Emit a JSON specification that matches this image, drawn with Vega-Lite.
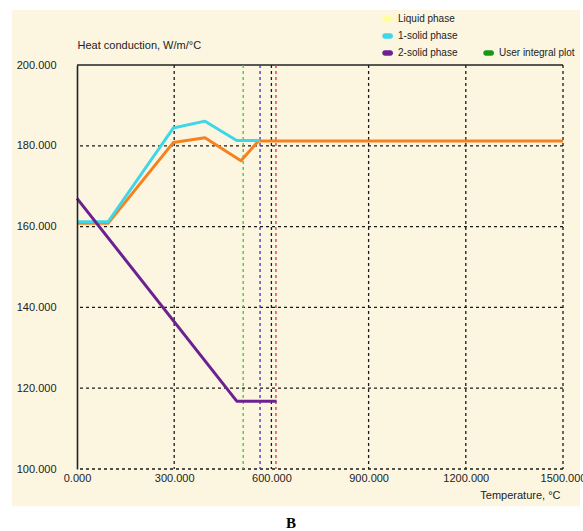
{
  "$schema": "https://vega.github.io/schema/vega-lite/v6.json",
  "width": 486,
  "height": 404,
  "autosize": {"type": "none"},
  "padding": {"left": 77, "top": 65, "right": 20, "bottom": 62},
  "background": "#FFFFFF",
  "config": {
    "view": {"stroke": null},
    "font": "Liberation Sans"
  },
  "title": {
    "text": "B",
    "orient": "bottom",
    "font": "Liberation Serif",
    "fontSize": 15,
    "fontWeight": "bold",
    "color": "#000000",
    "anchor": "middle",
    "frame": "group",
    "dx": -29,
    "offset": 10
  },
  "datasets": {
    "frame": [
      {"x0": -200.6, "x1": 1552, "y0": 213.6, "y1": 90.8}
    ],
    "gridT": [
      {"T": 300}, {"T": 600}, {"T": 900}, {"T": 1200}, {"T": 1500}
    ],
    "gridK": [
      {"k": 100}, {"k": 120}, {"k": 140}, {"k": 160}, {"k": 180}
    ],
    "border": [
      {"k": 200}
    ],
    "curves": [
      {"series": "1-solid phase", "T": 0, "k": 161.2},
      {"series": "1-solid phase", "T": 96, "k": 161.2},
      {"series": "1-solid phase", "T": 297, "k": 184.4},
      {"series": "1-solid phase", "T": 395, "k": 186.1},
      {"series": "1-solid phase", "T": 493, "k": 181.3},
      {"series": "1-solid phase", "T": 565, "k": 181.3},
      {"series": "2-solid phase", "T": 0, "k": 167},
      {"series": "2-solid phase", "T": 493, "k": 116.8},
      {"series": "2-solid phase", "T": 616, "k": 116.8}
    ],
    "integral": [
      {"T": 0, "k": 160.8},
      {"T": 96, "k": 160.8},
      {"T": 297, "k": 180.8},
      {"T": 395, "k": 182.0},
      {"T": 506, "k": 176.3},
      {"T": 560, "k": 181.2},
      {"T": 1500, "k": 181.2}
    ],
    "phases": [
      {"T": 513, "line": "start"},
      {"T": 565, "line": "middle"},
      {"T": 614, "line": "end"}
    ]
  },
  "layer": [
    {
      "data": {"name": "frame"},
      "mark": {"type": "rect", "fill": "#FCF6E1", "opacity": 1, "clip": false},
      "encoding": {
        "x": {
          "field": "x0", "type": "quantitative",
          "scale": {"domain": [0, 1500], "nice": false, "zero": false},
          "axis": {
            "values": [0, 300, 600, 900, 1200, 1500],
            "format": ".3f",
            "grid": false,
            "zindex": 1,
            "domain": false,
            "ticks": false,
            "labelPadding": 3,
            "labelFlush": false,
            "labelFont": "Liberation Sans",
            "labelFontSize": 11,
            "labelColor": "#222222",
            "title": "Temperature, °C",
            "titleFont": "Liberation Sans",
            "titleFontSize": 11,
            "titleFontWeight": "normal",
            "titleColor": "#222222",
            "titleAnchor": "end",
            "titleAlign": "right",
            "titleBaseline": "middle",
            "titleX": 483,
            "titleY": 26
          }
        },
        "x2": {"field": "x1"},
        "y": {
          "field": "y0", "type": "quantitative",
          "scale": {"domain": [100, 200], "nice": false, "zero": false},
          "axis": {
            "values": [100, 120, 140, 160, 180, 200],
            "format": ".3f",
            "grid": false,
            "zindex": 1,
            "domain": true,
            "domainColor": "#222222",
            "domainWidth": 1.6,
            "ticks": false,
            "labelPadding": 21,
            "labelFont": "Liberation Sans",
            "labelFontSize": 11,
            "labelColor": "#222222",
            "title": "Heat conduction, W/m/°C",
            "titleFont": "Liberation Sans",
            "titleFontSize": 11,
            "titleFontWeight": "normal",
            "titleColor": "#222222",
            "titleAngle": 0,
            "titleAlign": "left",
            "titleBaseline": "middle",
            "titleX": 0,
            "titleY": -20
          }
        },
        "y2": {"field": "y1"}
      }
    },
    {
      "data": {"name": "gridT"},
      "mark": {"type": "rule", "color": "#1a1a1a", "strokeDash": [3, 3], "strokeWidth": 1.3},
      "encoding": {
        "x": {"field": "T", "type": "quantitative"}
      }
    },
    {
      "data": {"name": "gridK"},
      "mark": {"type": "rule", "color": "#1a1a1a", "strokeDash": [3, 3], "strokeWidth": 1.3},
      "encoding": {
        "y": {"field": "k", "type": "quantitative"}
      }
    },
    {
      "data": {"name": "border"},
      "mark": {"type": "rule", "color": "#222222", "strokeWidth": 1.6},
      "encoding": {
        "y": {"field": "k", "type": "quantitative"}
      }
    },
    {
      "data": {"name": "phases"},
      "mark": {"type": "rule", "strokeDash": [3, 3], "strokeWidth": 1.3},
      "encoding": {
        "x": {"field": "T", "type": "quantitative"},
        "stroke": {
          "field": "line", "type": "nominal",
          "scale": {"domain": ["start", "middle", "end"], "range": ["#2ED12E", "#3535D0", "#E03030"]},
          "legend": null
        }
      }
    },
    {
      "data": {"name": "integral"},
      "mark": {"type": "line", "color": "#F5821F", "strokeWidth": 3, "strokeJoin": "round"},
      "encoding": {
        "x": {"field": "T", "type": "quantitative"},
        "y": {"field": "k", "type": "quantitative"}
      }
    },
    {
      "data": {"name": "curves"},
      "mark": {"type": "line", "strokeWidth": 3, "strokeJoin": "round"},
      "encoding": {
        "x": {"field": "T", "type": "quantitative"},
        "y": {"field": "k", "type": "quantitative"},
        "color": {
          "field": "series", "type": "nominal",
          "scale": {
            "domain": ["Liquid phase", "1-solid phase", "2-solid phase", "gap1", "gap2", "User integral plot"],
            "range": ["#FFFF99", "#3FD7E7", "#6B2290", "transparent", "transparent", "#159A15"]
          },
          "legend": {
            "orient": "none",
            "legendX": 307,
            "legendY": -51,
            "columns": 2,
            "title": null,
            "columnPadding": 25,
            "rowPadding": 7,
            "symbolType": "M-0.9,-0.6 L0.3,-0.6 A0.6,0.6 0 0 1 0.3,0.6 L-0.9,0.6 A0.6,0.6 0 0 1 -0.9,-0.6 Z",
            "symbolSize": 81,
            "symbolStrokeWidth": 0,
            "labelFont": "Liberation Sans",
            "labelFontSize": 10,
            "labelColor": "#222222",
            "labelOffset": 4,
            "labelExpr": "indexof(datum.label, 'gap') == 0 ? '' : datum.label",
            "encode": {
              "symbols": {
                "update": {
                  "fill": {"scale": "color", "field": "value"},
                  "strokeWidth": {"value": 0}
                }
              }
            }
          }
        }
      }
    }
  ]
}
